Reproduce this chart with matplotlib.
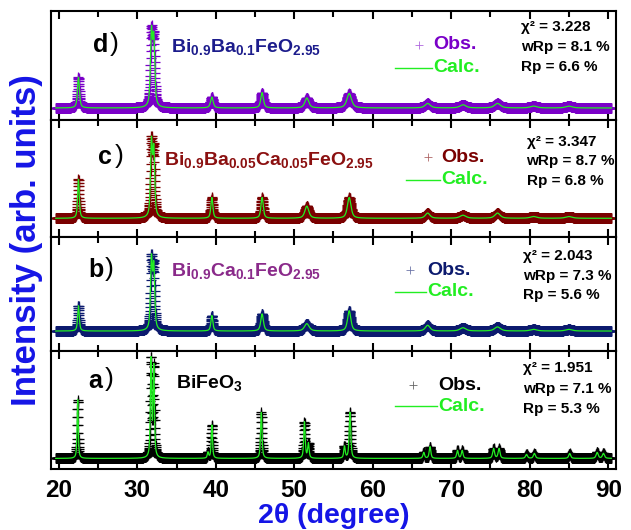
import numpy as np
import matplotlib
matplotlib.use('Agg')
from matplotlib import pyplot as plt

plt.rcParams['font.family'] = ['Liberation Sans', 'DejaVu Sans']
plt.rcParams['font.weight'] = 'bold'
plt.rcParams['mathtext.fontset'] = 'custom'
plt.rcParams['mathtext.rm'] = 'Liberation Sans:bold'
plt.rcParams['mathtext.bf'] = 'Liberation Sans:bold'
plt.rcParams['mathtext.it'] = 'Liberation Sans:bold'

# peak lists: position (deg), relative height, FWHM (deg)
pos_d = [22.5, 31.8, 32.1, 39.5, 45.9, 51.6, 57.0, 67.0, 71.5, 75.9, 80.5, 85.0]
hgt_d = [0.34, 0.80, 0.72, 0.12, 0.17, 0.11, 0.16, 0.05, 0.035, 0.05, 0.02, 0.02]
wid_d = [0.30, 0.30, 0.30, 0.40, 0.40, 0.60, 0.70, 0.80, 0.90, 0.90, 1.0, 1.0]

pos_c = [22.5, 31.8, 32.1, 39.5, 45.9, 51.6, 57.0, 67.0, 71.5, 75.9, 80.5, 85.0]
hgt_c = [0.45, 0.85, 0.75, 0.24, 0.24, 0.14, 0.24, 0.06, 0.035, 0.06, 0.02, 0.02]
wid_c = [0.25, 0.28, 0.28, 0.30, 0.35, 0.60, 0.55, 0.70, 0.90, 0.80, 1.0, 1.0]

pos_b = [22.5, 31.8, 32.1, 39.5, 45.9, 51.6, 57.0, 67.0, 71.5, 75.9, 80.5, 85.0]
hgt_b = [0.31, 0.85, 0.75, 0.19, 0.21, 0.09, 0.25, 0.07, 0.04, 0.05, 0.02, 0.02]
wid_b = [0.25, 0.28, 0.28, 0.30, 0.40, 0.70, 0.50, 0.70, 0.90, 0.90, 1.0, 1.0]

pos_a = [22.4, 31.75, 32.1, 39.0, 39.5, 45.8, 51.3, 51.8, 56.4, 57.1, 66.5, 67.3,
         70.8, 71.4, 75.4, 76.1, 79.6, 80.6, 85.1, 88.6, 89.4]
hgt_a = [0.60, 1.00, 0.92, 0.06, 0.34, 0.47, 0.37, 0.15, 0.12, 0.47, 0.06, 0.12,
         0.08, 0.08, 0.10, 0.10, 0.04, 0.05, 0.05, 0.06, 0.05]
wid_a = [0.18, 0.20, 0.20, 0.20, 0.20, 0.22, 0.22, 0.22, 0.22, 0.24, 0.25, 0.25,
         0.25, 0.25, 0.28, 0.28, 0.30, 0.30, 0.30, 0.32, 0.32]

names = [r'$\mathregular{Bi_{0.9}Ba_{0.1}FeO_{2.95}}$',
         r'$\mathregular{Bi_{0.9}Ba_{0.05}Ca_{0.05}FeO_{2.95}}$',
         r'$\mathregular{Bi_{0.9}Ca_{0.1}FeO_{2.95}}$',
         r'$\mathregular{BiFeO_3}$']
letters = ['d', 'c', 'b', 'a']
chi2 = ['3.228', '3.347', '2.043', '1.951']
wrp = ['8.1', '8.7', '7.3', '7.1']
rp = ['6.6', '6.8', '5.6', '5.3']

obs_col = ['#7a00c8', '#7a0000', '#0c1a6e', '#000000']
name_col = ['#1c1c8c', '#8b1010', '#8a2a8a', '#000000']
calc_col = '#22ee22'

peaks = [(pos_d, hgt_d, wid_d), (pos_c, hgt_c, wid_c),
         (pos_b, hgt_b, wid_b), (pos_a, hgt_a, wid_a)]

# panel boxes in pixels (top, bottom) and data y-limits
boxes = [(11, 120), (120, 237), (237, 351), (351, 469)]
ylims = [(-0.133, 1.072), (-0.216, 1.135), (-0.245, 1.154), (-0.108, 1.096)]
# text x positions (data) per panel: label, name, obs marker, obs text, line start, stats
tx = [(24.4, 34.3, 65.9, 67.7, 62.9, 78.9),
      (25.0, 33.4, 67.0, 68.7, 64.2, 79.6),
      (23.7, 34.3, 64.8, 66.9, 62.9, 79.1),
      (23.7, 34.9, 65.1, 68.3, 62.9, 79.1)]
ty = [(0.69, 0.67, 0.69, 0.48, (0.85, 0.67, 0.49)),
      (0.68, 0.66, 0.68, 0.49, (0.81, 0.65, 0.48)),
      (0.71, 0.70, 0.71, 0.52, (0.83, 0.66, 0.49)),
      (0.75, 0.73, 0.71, 0.53, (0.86, 0.68, 0.51))]


def profile(x, pos, hgt, wid, eta=0.65):
    y = np.zeros_like(x)
    for p, h, w in zip(pos, hgt, wid):
        g = np.exp(-4 * np.log(2) * ((x - p) / w) ** 2)
        l = 1 / (1 + 4 * ((x - p) / w) ** 2)
        y += h * (eta * l + (1 - eta) * g)
    return y


x = np.arange(19.6, 90.4, 0.02)

W, H = 631, 530
fig = plt.figure(figsize=(W / 100, H / 100), dpi=100)
left, right = 51 / W, 616 / W

axes = []
for i in range(4):
    top, bot = boxes[i]
    ax = fig.add_axes([left, 1 - bot / H, right - left, (bot - top) / H])
    axes.append(ax)
    pos, hgt, wid = peaks[i]
    y = profile(x, pos, hgt, wid)
    ax.plot(x, y, '+', color=obs_col[i], ms=6.5, mew=0.9, zorder=2)
    ax.plot(x, y, '-', color=calc_col, lw=0.9, zorder=3)
    ax.set_xlim(19, 91)
    ax.set_ylim(*ylims[i])
    ax.set_yticks([])
    ax.set_xticks(np.arange(20, 91, 10))
    ax.set_xticks(np.arange(25, 90, 10), minor=True)
    ax.tick_params(axis='x', which='both', direction='in', top=True, bottom=True, width=1.5)
    ax.tick_params(axis='x', which='major', length=6, labelsize=17.5, pad=7)
    ax.tick_params(axis='x', which='minor', length=4)
    for s in ax.spines.values():
        s.set_linewidth(1.5)
    if i < 3:
        ax.set_xticklabels([])

    trans = ax.get_xaxis_transform()
    xl, xn, xm, xo, xs, xst = tx[i]
    yl, yn, yo, yc, yst = ty[i]
    ax.text(xl, yl, letters[i], transform=trans, fontsize=18, fontweight='bold',
            va='center', ha='left')
    ax.text(xl + 2.1, yl + 0.01, ')', transform=trans, fontsize=19, fontweight='normal',
            va='center', ha='left')
    ax.text(xn, yn, names[i], transform=trans, fontsize=14, color=name_col[i],
            va='center', ha='left')
    ax.plot([xm], [yo], '+', color=obs_col[i], ms=6, mew=0.6, alpha=0.6,
            transform=trans)
    ax.text(xo, yo, 'Obs.', transform=trans, fontsize=14, fontweight='bold',
            color=obs_col[i], va='center', ha='left')
    ax.plot([xs, xo - 0.1], [yc, yc], '-', color=calc_col, lw=1.0, transform=trans)
    ax.text(xo, yc, 'Calc.', transform=trans, fontsize=14, fontweight='bold',
            color=calc_col, va='center', ha='left')
    stats = ['χ² = ' + chi2[i], 'wRp = ' + wrp[i] + ' %', 'Rp = ' + rp[i] + ' %']
    for s, yy in zip(stats, yst):
        ax.text(xst, yy, s, transform=trans, fontsize=11, fontweight='bold',
                va='center', ha='left')

axes[3].set_xlabel('2θ (degree)', fontsize=20.5, fontweight='bold', color='#1515e6',
                   labelpad=1)
fig.text(0.042, (1 - 469 / H + 1 - 11 / H) / 2, 'Intensity (arb. units)',
         rotation=90, fontsize=25, fontweight='bold', color='#1515e6',
         va='center', ha='center')

plt.savefig('out.png', dpi=100)
